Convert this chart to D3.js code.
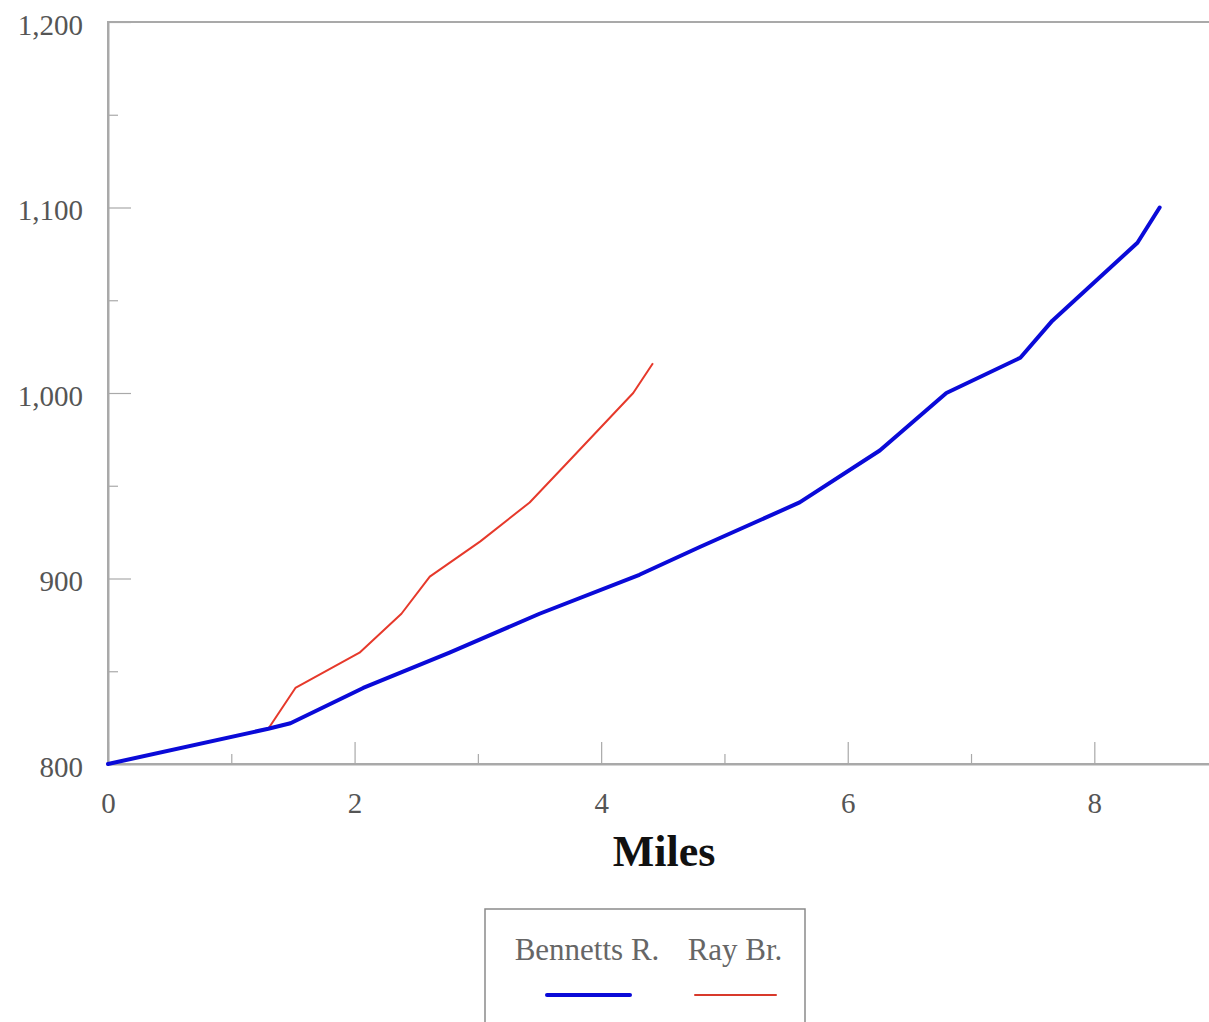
<!DOCTYPE html>
<html>
<head>
<meta charset="utf-8">
<script src="https://cdn.jsdelivr.net/npm/d3@7"></script>
<style>
  html, body { margin: 0; padding: 0; background: #fff; }
  svg { display: block; }
</style>
</head>
<body>
<svg id="chart" width="1209" height="1022"></svg>
<script>
// ---- Data ----
const seriesNames = ["Bennetts R.", "Ray Br."];
const bennettsMiles  = [0, 1.30, 1.48, 2.07, 2.77, 3.50, 4.31, 4.80, 5.61, 6.26, 6.80, 7.40, 7.66, 8.35, 8.53];
const bennettsElev   = [800, 819, 822, 841, 860, 881, 902, 917, 941, 969, 1000, 1019, 1039, 1081, 1100];
const rayMiles       = [1.30, 1.52, 2.04, 2.38, 2.61, 3.02, 3.42, 3.72, 4.26, 4.42];
const rayElev        = [819, 841, 860, 881, 901, 920, 941, 962, 1000, 1016];
const xTickValues    = [0, 2, 4, 6, 8];
const xMinorValues   = [1, 3, 5, 7, 9];
const yTickValues    = [800, 900, 1000, 1100, 1200];
const yMinorValues   = [850, 950, 1050, 1150];
const xAxisTitle     = "Miles";

// ---- Layout ----
const svg = d3.select("#chart");
const x = d3.scaleLinear().domain([0, 9]).range([108, 1217.6]);
const y = d3.scaleLinear().domain([800, 1200]).range([764, 22]);
const axisColor = "#a9a9a9";
const textColor = "#555";
const serif = "'Liberation Serif', 'Times New Roman', serif";

// plot frame
svg.append("rect")
  .attr("x", x(0)).attr("y", y(1200))
  .attr("width", x(9) - x(0)).attr("height", y(800) - y(1200))
  .attr("fill", "#fff").attr("stroke", axisColor).attr("stroke-width", 2);

// Y axis (ticks pointing inward)
const yAxis = d3.axisLeft(y).tickValues(yTickValues).tickSizeInner(-23).tickSizeOuter(0)
  .tickFormat(d3.format(","));
const gy = svg.append("g").attr("transform", `translate(${x(0)},0)`).call(yAxis);
gy.select(".domain").attr("stroke", axisColor).attr("stroke-width", 2);
gy.selectAll(".tick line").attr("stroke", axisColor).attr("stroke-width", 1.2);
gy.selectAll(".tick text")
  .attr("x", -25).attr("dy", "0.42em")
  .attr("fill", textColor).style("font-family", serif).style("font-size", "29px");

const yMinor = d3.axisLeft(y).tickValues(yMinorValues).tickSizeInner(-10).tickSizeOuter(0).tickFormat("");
const gym = svg.append("g").attr("transform", `translate(${x(0)},0)`).call(yMinor);
gym.select(".domain").remove();
gym.selectAll(".tick line").attr("stroke", axisColor).attr("stroke-width", 1.2);

// X axis (ticks pointing inward/up)
const xAxis = d3.axisBottom(x).tickValues(xTickValues).tickSizeInner(-22).tickSizeOuter(0)
  .tickFormat(d3.format("d"));
const gx = svg.append("g").attr("transform", `translate(0,${y(800)})`).call(xAxis);
gx.select(".domain").attr("stroke", axisColor).attr("stroke-width", 2);
gx.selectAll(".tick line").attr("stroke", axisColor).attr("stroke-width", 1.2);
gx.selectAll(".tick text")
  .attr("y", 28).attr("dy", "0.71em")
  .attr("fill", textColor).style("font-family", serif).style("font-size", "29px");

const xMinor = d3.axisBottom(x).tickValues(xMinorValues).tickSizeInner(-10).tickSizeOuter(0).tickFormat("");
const gxm = svg.append("g").attr("transform", `translate(0,${y(800)})`).call(xMinor);
gxm.select(".domain").remove();
gxm.selectAll(".tick line").attr("stroke", axisColor).attr("stroke-width", 1.2);

// X axis title
svg.append("text")
  .attr("x", 664).attr("y", 866)
  .attr("text-anchor", "middle")
  .style("font-family", serif).style("font-size", "44px").style("font-weight", "bold")
  .attr("fill", "#111").text(xAxisTitle);

// Lines
const line = d3.line().x(d => x(d[0])).y(d => y(d[1]));
const bennetts = d3.zip(bennettsMiles, bennettsElev);
const ray = d3.zip(rayMiles, rayElev);

svg.append("path").datum(ray)
  .attr("d", line).attr("fill", "none")
  .attr("stroke", "#e6392b").attr("stroke-width", 2).attr("stroke-linejoin", "round");

svg.append("path").datum(bennetts)
  .attr("d", line).attr("fill", "none")
  .attr("stroke", "#0a0ad8").attr("stroke-width", 4).attr("stroke-linejoin", "round")
  .attr("stroke-linecap", "round");

// Legend
const lg = svg.append("g");
lg.append("rect")
  .attr("x", 485).attr("y", 909).attr("width", 320).attr("height", 140)
  .attr("fill", "#fff").attr("stroke", "#8a8a8a").attr("stroke-width", 1.5);
const legendItems = [
  { name: seriesNames[0], cx: 587, x1: 547, x2: 630, color: "#0a0ad8", w: 4 },
  { name: seriesNames[1], cx: 735, x1: 695, x2: 776, color: "#d8392b", w: 2 }
];
legendItems.forEach(it => {
  lg.append("text")
    .attr("x", it.cx).attr("y", 960).attr("text-anchor", "middle")
    .style("font-family", serif).style("font-size", "31px")
    .attr("fill", "#666").text(it.name);
  lg.append("line")
    .attr("x1", it.x1).attr("x2", it.x2).attr("y1", 995).attr("y2", 995)
    .attr("stroke", it.color).attr("stroke-width", it.w).attr("stroke-linecap", "round");
});
</script>
</body>
</html>
